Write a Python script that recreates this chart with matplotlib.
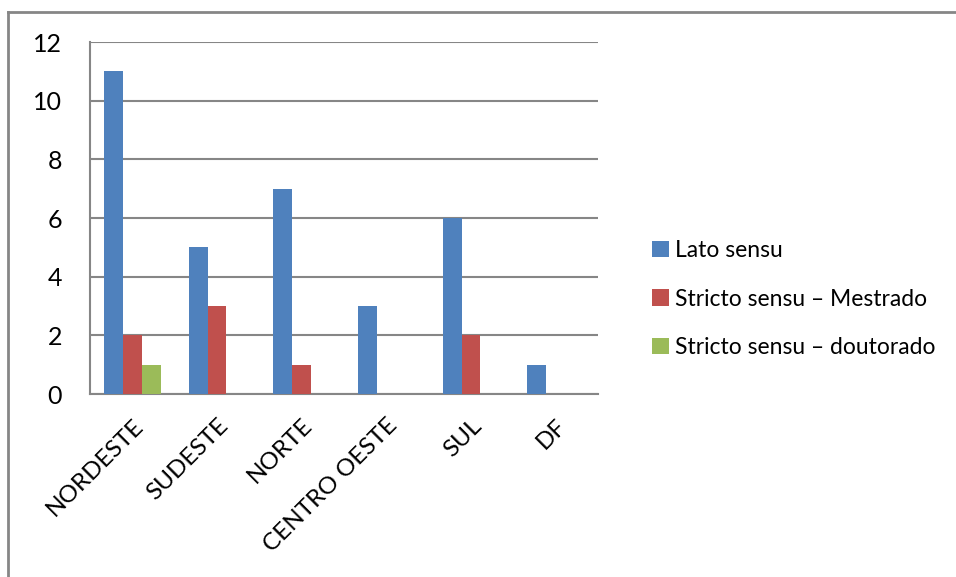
import numpy as np
import matplotlib.pyplot as plt
from matplotlib.lines import Line2D

regioes = ['NORDESTE', 'SUDESTE', 'NORTE', 'CENTRO OESTE', 'SUL', 'DF']
lato_sensu = [11, 5, 7, 3, 6, 1]
mestrado = [2, 3, 1, 0, 2, 0]
doutorado = [1, 0, 0, 0, 0, 0]
series_nomes = ['Lato sensu', 'Stricto sensu \u2013 Mestrado', 'Stricto sensu \u2013 doutorado']
cores = ['#4F81BD', '#C0504D', '#9BBB59']
cinza = '#868686'

plt.rcParams['font.family'] = ['Lato', 'DejaVu Sans']

fig = plt.figure(figsize=(9.56, 5.77), dpi=100)
ax = fig.add_axes([90 / 956, 1 - 394 / 577, 508 / 956, 352 / 577])

x = np.arange(len(regioes))
w = 1 / 4.5
for i, (vals, cor, nome) in enumerate(zip([lato_sensu, mestrado, doutorado], cores, series_nomes)):
    ax.bar(x + (i - 1) * w, vals, width=w, color=cor, label=nome, zorder=3)

ax.set_xlim(-0.5, len(regioes) - 0.5)
ax.set_ylim(0, 12)
ax.set_yticks(range(0, 13, 2))
ax.yaxis.grid(True, color=cinza, linewidth=1.5, zorder=0)
ax.set_xticks(x)
ax.set_xticklabels(regioes, rotation=45, ha='right', rotation_mode='anchor', fontsize=17.5)
ax.tick_params(axis='both', length=0)
ax.tick_params(axis='y', pad=20, labelsize=18)
ax.tick_params(axis='x', pad=15)
for lado in ['top', 'right']:
    ax.spines[lado].set_visible(False)
for lado in ['left', 'bottom']:
    ax.spines[lado].set_color(cinza)
    ax.spines[lado].set_linewidth(1.5)

ax.legend(loc='center left', bbox_to_anchor=(641 / 956, 1 - 299 / 577), bbox_transform=fig.transFigure,
          frameon=False, fontsize=16.5, handlelength=0.7, handleheight=0.7, handletextpad=0.3,
          labelspacing=1.2, borderpad=0)

# moldura da área do gráfico (só topo e esquerda aparecem)
fig.add_artist(Line2D([8 / 956, 8 / 956], [0, 1 - 12 / 577], color=cinza, linewidth=2, transform=fig.transFigure))
fig.add_artist(Line2D([8 / 956, 1], [1 - 12 / 577, 1 - 12 / 577], color=cinza, linewidth=2, transform=fig.transFigure))

fig.savefig('out.png', dpi=100)
